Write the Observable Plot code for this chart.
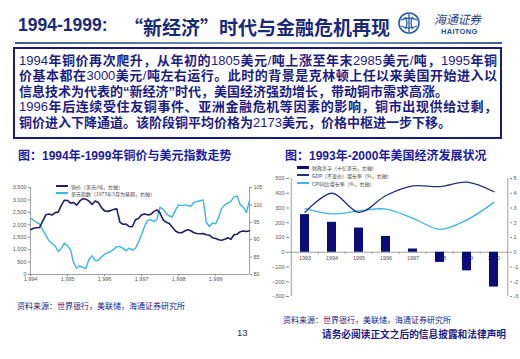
<!DOCTYPE html>
<html><head><meta charset="utf-8">
<script src="https://cdn.jsdelivr.net/npm/d3@7"></script>
<script src="https://cdn.jsdelivr.net/npm/@observablehq/plot@0.6"></script>
<style>
html,body{margin:0;padding:0;background:#fff;}
body{width:520px;height:359px;position:relative;overflow:hidden;font-family:"Liberation Sans","Noto Sans CJK SC",sans-serif;}
.abs{position:absolute;white-space:nowrap;}
#box{position:absolute;left:13px;top:47px;width:489px;height:92px;border:2px solid #1b1b7a;box-sizing:border-box;padding:4px 3px 0 4px;color:#1c1c84;font-family:"Liberation Sans","Noto Sans CJK SC";font-size:13px;}
#box div{height:15.4px;line-height:15.4px;white-space:nowrap;font-weight:bold;}
#box .j{text-align:justify;text-align-last:justify;}
#box .n{font-weight:normal;}
.ctitle{font-family:"Liberation Sans","Noto Sans CJK SC";font-weight:bold;font-size:12px;color:#1c1ca0;}
.leg{font-family:"Noto Sans CJK SC";font-size:5px;color:#444;display:flex;align-items:center;height:8px;}
.leg i{display:inline-block;width:12px;margin-right:3px;}
.src{font-family:"Noto Sans CJK SC";font-size:8px;color:#1c1c84;}
</style></head>
<body>
<div class="abs" style="left:18px;top:15px;font-size:17.5px;font-weight:bold;color:#1a2a78;font-family:'Liberation Sans'">1994-1999:</div>
<div class="abs" style="left:124px;top:13px;font-size:19px;font-weight:bold;color:#1a2a78;font-family:'Noto Sans CJK SC'">“新经济”时代与金融危机再现</div>
<svg class="abs" style="left:397px;top:11px" width="24" height="24" viewBox="0 0 24 24">
<circle cx="12" cy="12" r="10" fill="none" stroke="#2a5ca8" stroke-width="1.6"/>
<path d="M4 9 Q12 5 20 9 M4 15 Q12 19 20 15 M12 3 L12 21 M8 6 Q12 12 8 18 M16 6 Q12 12 16 18" fill="none" stroke="#2a5ca8" stroke-width="1.3"/>
</svg>
<div class="abs" style="left:434px;top:13px;font-size:12px;line-height:11px;font-style:italic;color:#1f3f8f;font-family:'Noto Sans CJK SC';letter-spacing:-0.3px">海通证券</div>
<div class="abs" style="left:441px;top:27.5px;font-size:7.5px;line-height:7px;font-weight:bold;color:#1f4e9a;font-family:'Liberation Sans';letter-spacing:0.3px">HAITONG</div>
<div class="abs" style="left:15px;top:42px;width:487px;height:2px;background:linear-gradient(90deg,#3c5d99,#7fa0cc 60%,#3c5d99);"></div>

<div id="box">
<div class="j"><span class="n">1994</span>年铜价再次爬升，从年初的<span class="n">1805</span>美元<span class="n">/</span>吨上涨至年末<span class="n">2985</span>美元<span class="n">/</span>吨，<span class="n">1995</span>年铜</div>
<div class="j">价基本都在<span class="n">3000</span>美元<span class="n">/</span>吨左右运行。此时的背景是克林顿上任以来美国开始进入以</div>
<div>信息技术为代表的“新经济”时代，美国经济强劲增长，带动铜市需求高涨。</div>
<div class="j"><span class="n">1996</span>年后连续受住友铜事件、亚洲金融危机等因素的影响，铜市出现供给过剩，</div>
<div>铜价进入下降通道。该阶段铜平均价格为<span class="n">2173</span>美元，价格中枢进一步下移。</div>
</div>

<div class="abs ctitle" style="left:18px;top:146px">图：1994年-1999年铜价与美元指数走势</div>
<div class="abs ctitle" style="left:285px;top:146px">图：1993年-2000年美国经济发展状况</div>

<div id="c1" class="abs" style="left:0;top:180px"></div>
<div id="c2" class="abs" style="left:262px;top:170px"></div>

<div class="abs" style="left:56px;top:182px">
<div class="leg"><i style="height:1.6px;background:#1e2264"></i>铜价（美元/吨，左轴）</div>
<div class="leg" style="margin-top:-1px"><i style="height:1.4px;background:#38b6e6"></i>美元指数（1973年3月为基期，右轴）</div>
</div>
<div class="abs" style="left:297px;top:163px">
<div class="leg"><i style="height:3px;background:#0b0b7a"></i>财政赤字（十亿美元，左轴）</div>
<div class="leg"><i style="height:1.2px;background:#23307a"></i>GDP（不变价）增长率（%，右轴）</div>
<div class="leg"><i style="height:1.2px;background:#38b6e6"></i>CPI同比增长率（%，右轴）</div>
</div>

<div class="abs src" style="left:17px;top:300px">资料来源：世界银行，美联储，海通证券研究所</div>
<div class="abs src" style="left:283px;top:314px">资料来源：世界银行，美联储，海通证券研究所</div>
<div class="abs" style="left:237px;top:327px;font-size:9.5px;color:#333;font-family:'Liberation Sans'">13</div>
<div class="abs" style="left:322px;top:327px;font-size:9.7px;font-weight:bold;color:#1c1c84;font-family:'Noto Sans CJK SC'">请务必阅读正文之后的信息披露和法律声明</div>

<script>
// ---- Chart 1 data: monthly, Jan 1994 – Dec 1999 ----
const startYear = 1994;
const copper = [1800,1860,1880,1890,2150,2400,2430,2390,2490,2510,2780,2990,
 2980,2870,2900,2790,2950,3050,3030,2950,2820,2960,2900,2700,
 2560,2540,2570,2620,2640,2100,2020,2030,1930,1920,2200,2250,
 2400,2430,2400,2420,2530,2600,2480,2200,2100,2050,1900,1750,
 1680,1680,1750,1800,1760,1680,1650,1640,1650,1600,1580,1480,
 1450,1400,1380,1420,1480,1420,1600,1620,1720,1750,1730,1760];
const dollarIndex = [96.2,95.6,95.0,94.5,92.8,91.3,89.7,89.0,88.2,86.6,87.5,89.0,
 88.3,87.0,83.5,81.8,82.5,82.0,81.8,84.4,85.4,84.0,84.1,85.0,
 85.8,86.3,86.6,87.3,88.0,88.0,87.5,86.8,87.6,87.0,87.5,89.3,
 91.5,94.0,95.5,95.8,95.2,95.8,99.3,98.8,97.5,96.8,96.6,98.5,
 100.0,99.8,100.0,99.8,99.6,100.7,101.0,101.2,101.4,95.0,93.8,94.8,
 94.6,96.5,99.0,100.0,100.5,101.0,102.3,102.6,100.0,99.4,97.8,101.2];
const leftTicks1 = [0,500,1000,1500,2000,2500,3000,3500];
const rightTicks1 = [80,85,90,95,100,105];
const yearTicks1 = [1994,1995,1996,1997,1998,1999];

// ---- Chart 2 data ----
const years2 = ["1993","1994","1995","1996","1997","1998","1999","2000"];
const deficit = [255,203,164,107,22,-69,-126,-236];
const gdpGrowth = [2.7,4.0,2.7,3.85,4.5,4.45,4.75,4.1];
const cpiGrowth = [2.95,2.6,2.8,2.93,2.3,1.55,2.2,3.38];
const leftTicks2 = [-300,-200,-100,0,100,200,300,400,500];
const rightTicks2 = [-3,-2,-1,0,1,2,3,4,5];

const navy = "#0b0b7a", copperCol = "#1e2264", lightBlue = "#38b6e6", gdpCol = "#23307a", axisCol = "#8a8a8a";

// chart 1
const month = i => new Date(Date.UTC(startYear + Math.floor(i/12), i%12, 1));
const rows1 = copper.map((c,i)=>({date: month(i), copper: c, dollar: dollarIndex[i]}));
const k1 = 3500/25; // right-axis mapping 80..105 -> 0..3500
const toLeft1 = v => (v - 80) * k1;
const x0 = rows1[0].date, x1 = rows1[rows1.length-1].date;

const c1 = Plot.plot({
  width: 262, height: 105,
  marginLeft: 30, marginRight: 13, marginTop: 7, marginBottom: 11,
  style: {fontSize: "5.5px", fontFamily: "Liberation Sans", color: "#555", background: "transparent"},
  x: {type: "utc", domain: [x0, x1]},
  y: {domain: [0, 3500]},
  marks: [
    Plot.ruleY([0], {stroke: axisCol, strokeWidth: 0.8}),
    Plot.ruleX([x0], {stroke: axisCol, strokeWidth: 0.8}),
    Plot.ruleX([x1], {stroke: axisCol, strokeWidth: 0.8}),
    Plot.axisY(leftTicks1, {anchor: "left", tickSize: 2, tickPadding: 2, stroke: axisCol, label: null}),
    Plot.axisY(rightTicks1.map(toLeft1), {anchor: "right", tickSize: 2, tickPadding: 2, stroke: axisCol, tickFormat: d => Math.round(d / k1 + 80), label: null}),
    Plot.axisX(yearTicks1.map(y => new Date(Date.UTC(y,0,1))), {tickFormat: d => d.getUTCFullYear(), tickSize: 2, tickPadding: 1, stroke: axisCol, label: null}),
    Plot.line(rows1, {x: "date", y: d => toLeft1(d.dollar), stroke: lightBlue, strokeWidth: 1.4}),
    Plot.line(rows1, {x: "date", y: "copper", stroke: copperCol, strokeWidth: 1.6})
  ]
});
document.getElementById("c1").append(c1);

// chart 2
const k2 = 100; // right axis -3..5 -> -300..500
const rows2 = years2.map((y,i)=>({year: y, deficit: deficit[i], gdp: gdpGrowth[i]*k2, cpi: cpiGrowth[i]*k2}));
const half = 13.75; // half a band step, px
const c2 = Plot.plot({
  width: 258, height: 130,
  marginLeft: 27, marginRight: 11, marginTop: 8, marginBottom: 4,
  style: {fontSize: "5.5px", fontFamily: "Liberation Sans", color: "#555", background: "transparent"},
  x: {domain: years2, paddingInner: 0.67, paddingOuter: 0.335, axis: null},
  y: {domain: [-300, 500]},
  marks: [
    Plot.ruleY([0], {stroke: axisCol, strokeWidth: 0.8}),
    Plot.ruleX([years2[0]], {dx: -half, stroke: axisCol, strokeWidth: 0.8}),
    Plot.ruleX([years2[years2.length-1]], {dx: half, stroke: axisCol, strokeWidth: 0.8}),
    Plot.ruleX(years2.slice(1), {y1: 0, y2: -14, dx: -half, stroke: axisCol, strokeWidth: 0.8}),
    Plot.axisY(leftTicks2, {anchor: "left", tickSize: 3, tickPadding: 2, stroke: axisCol, label: null}),
    Plot.axisY(rightTicks2.map(v => v*k2), {anchor: "right", tickSize: 2, tickPadding: 2, stroke: axisCol, tickFormat: d => d / k2, label: null}),
    Plot.text(rows2, {x: "year", y: 0, text: "year", dy: 6, fill: "#555"}),
    Plot.barY(rows2, {x: "year", y: "deficit", fill: navy}),
    Plot.line(rows2, {x: "year", y: "cpi", stroke: lightBlue, strokeWidth: 1.3, curve: "catmull-rom"}),
    Plot.line(rows2, {x: "year", y: "gdp", stroke: gdpCol, strokeWidth: 1.3, curve: "catmull-rom"})
  ]
});
document.getElementById("c2").append(c2);
</script>
</body></html>
